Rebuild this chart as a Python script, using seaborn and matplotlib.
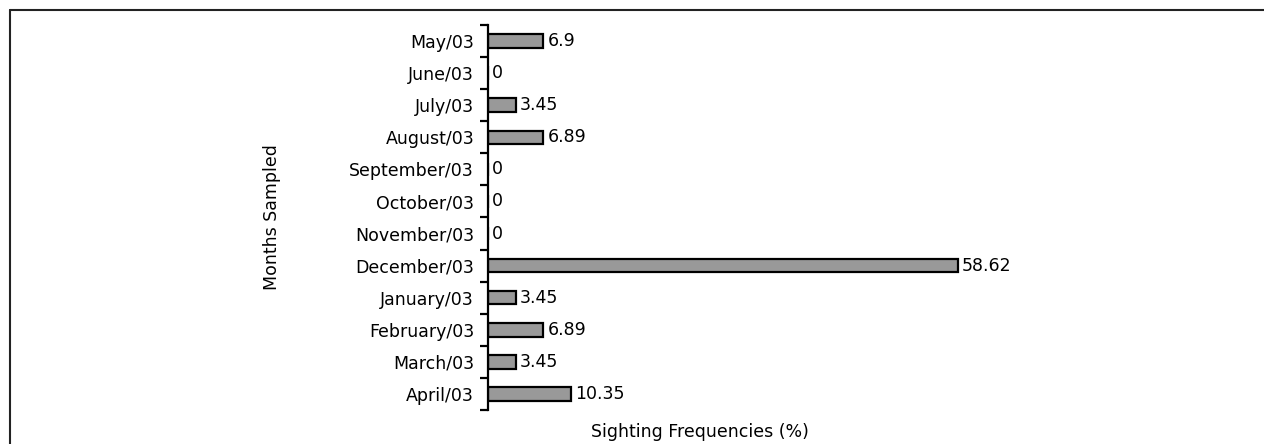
import matplotlib
matplotlib.use("Agg")
import matplotlib.pyplot as plt
import seaborn as sns
import pandas as pd
from matplotlib.lines import Line2D

months = ["May/03", "June/03", "July/03", "August/03", "September/03", "October/03",
          "November/03", "December/03", "January/03", "February/03", "March/03", "April/03"]
freqs = [6.9, 0, 3.45, 6.89, 0, 0, 0, 58.62, 3.45, 6.89, 3.45, 10.35]
value_labels = ["6.9", "0", "3.45", "6.89", "0", "0", "0", "58.62", "3.45", "6.89", "3.45", "10.35"]

df = pd.DataFrame({"Month": months, "Freq": freqs})

sns.set_style("white")
plt.rcParams["font.family"] = ["DejaVu Sans"]
plt.rcParams["text.color"] = "black"
plt.rcParams["axes.labelcolor"] = "black"
plt.rcParams["ytick.color"] = "black"

fig = plt.figure(figsize=(12.64, 4.44), dpi=100)
ax = fig.add_axes([488 / 1264, 1 - 410 / 444, 601 / 1264, 385 / 444])

sns.barplot(data=df, x="Freq", y="Month", order=months, orient="h",
            color="#999999", edgecolor="black", linewidth=1.6, width=0.42,
            saturation=1, ax=ax)

ax.bar_label(ax.containers[0], labels=value_labels, padding=3, fontsize=12.5, color="black")

ax.set_xlim(0, 75)
ax.set_ylim(len(months) - 0.5, -0.5)
for s in ["top", "right", "bottom"]:
    ax.spines[s].set_visible(False)
ax.spines["left"].set_linewidth(1.6)
ax.spines["left"].set_color("black")
ax.set_xticks([])

ax.set_yticks(range(len(months)))
ax.set_yticklabels(months, fontsize=12.5)
ax.set_yticks([i - 0.5 for i in range(len(months) + 1)], minor=True)
ax.tick_params(axis="y", which="major", length=0, pad=10)
ax.tick_params(axis="y", which="minor", length=6, width=1.6, direction="out", color="black", left=True)

ax.set_xlabel("Sighting Frequencies (%)", fontsize=12.5)
ax.xaxis.set_label_coords((700 - 488) / 601, -13 / 385)
ax.set_ylabel("Months Sampled", fontsize=12.5)
ax.yaxis.set_label_coords(-(488 - 281) / 601, 0.5)

# frame lines (top and left only)
ytop = 1 - 10 / 444
xleft = 10 / 1264
fig.lines.append(Line2D([xleft, 1], [ytop, ytop], transform=fig.transFigure, color="#222222", linewidth=1.5))
fig.lines.append(Line2D([xleft, xleft], [0, ytop], transform=fig.transFigure, color="#222222", linewidth=1.5))

fig.savefig("out.png", dpi=100)
